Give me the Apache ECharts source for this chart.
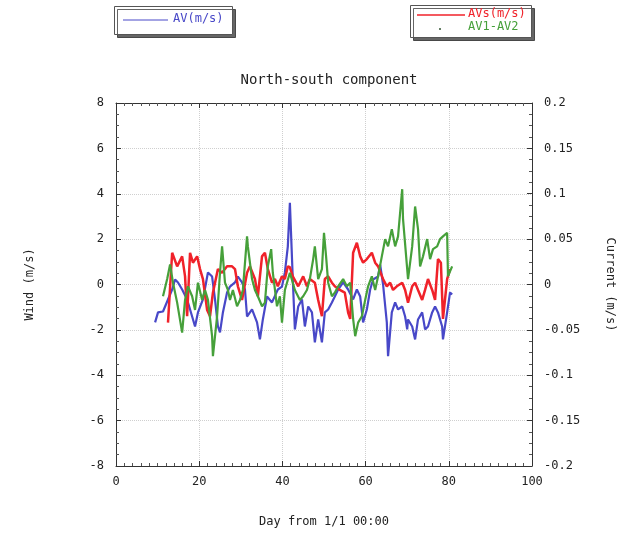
<!DOCTYPE html>
<html>
<head>
<meta charset="utf-8">
<script src="https://cdn.jsdelivr.net/npm/echarts@6/dist/echarts.min.js"></script>
<style>
    html,body{margin:0;padding:0;background:#fff;}
    #chart{width:626px;height:533px;}
</style>
</head>
<body>
<div id="chart"></div>
<script>
    // AV (wind, left axis, m/s) — [day, value]
    var avDays = [9.4,10.1,11.3,12.5,13.5,14.2,14.9,15.9,17.1,18.3,19.0,19.7,20.9,22.1,23.1,23.8,24.5,25.0,25.7,26.7,27.4,28.6,29.3,30.3,31.0,31.5,32.7,33.9,34.6,35.3,36.3,37.5,38.9,39.9,40.6,41.3,41.8,42.5,43.0,43.8,44.7,45.4,46.2,47.1,47.8,48.6,49.5,50.2,51.0,51.9,52.6,53.4,54.6,55.8,57.0,57.9,58.7,59.4,60.3,61.1,61.8,63.0,63.5,64.2,65.1,65.4,66.3,67.1,67.8,68.8,69.5,70.0,70.2,71.2,71.9,72.6,73.6,74.3,75.0,76.0,76.7,77.4,78.4,78.6,79.6,80.3,80.8]
    var avVals = [-1.67,-1.23,-1.19,-0.66,-0.22,0.22,0.09,-0.22,-0.66,-1.41,-1.85,-1.23,-0.66,0.53,0.35,-0.66,-1.85,-2.11,-1.23,-0.35,-0.09,0.09,0.35,0.09,-0.22,-1.41,-1.1,-1.67,-2.42,-1.54,-0.53,-0.79,-0.22,-0.09,0.53,1.67,3.6,0.22,-1.98,-0.97,-0.66,-1.85,-0.97,-1.23,-2.55,-1.54,-2.55,-1.23,-1.1,-0.79,-0.53,-0.22,0.09,-0.22,-0.66,-0.22,-0.53,-1.67,-1.1,-0.22,0.22,0.35,0.88,0,-1.67,-3.16,-1.23,-0.79,-1.1,-0.97,-1.41,-1.98,-1.54,-1.85,-2.42,-1.54,-1.23,-1.98,-1.85,-1.23,-0.97,-1.23,-1.85,-2.42,-1.23,-0.35,-0.44]

    // AVs (current, right axis, m/s)
    var avsDays = [12.5,13.5,14.7,15.9,16.6,17.1,17.8,18.5,19.5,20.2,20.9,21.9,22.6,23.3,24.5,25.5,26.7,27.9,28.6,29.3,30.3,31.5,32.2,33.4,34.1,35.1,35.8,36.5,37.5,38.2,38.9,39.9,40.6,41.3,41.8,42.5,43.8,45.0,45.9,46.6,47.8,48.6,49.5,50.2,51.0,51.9,52.6,53.8,55.0,55.8,56.3,57.0,57.9,58.7,59.4,60.3,61.5,62.3,63.0,64.2,65.1,65.9,66.6,67.5,68.8,69.5,70.2,71.2,71.9,72.6,73.6,74.3,75.0,76.0,76.7,77.4,78.1,78.6,79.6,80.3]
    var avsVals = [-0.042,0.035,0.020,0.031,0.009,-0.035,0.035,0.024,0.031,0.017,0.006,-0.028,-0.035,-0.009,0.017,0.013,0.020,0.020,0.017,-0.002,-0.017,0.013,0.020,0.006,-0.013,0.031,0.035,0.017,0.002,0.006,-0.002,0.009,0.006,0.020,0.019,0.009,-0.002,0.009,-0.002,0.006,0.002,-0.017,-0.035,0.006,0.009,0.002,-0.002,-0.006,-0.009,-0.031,-0.038,0.035,0.046,0.031,0.024,0.028,0.035,0.024,0.020,0.006,-0.002,0.002,-0.006,-0.002,0.002,-0.006,-0.020,-0.002,0.002,-0.006,-0.017,-0.006,0.006,-0.006,-0.017,0.028,0.024,-0.038,0.006,0.017]

    // AV1-AV2 (current, right axis, m/s)
    var diffDays = [11.3,12.3,13.0,13.7,14.7,15.9,16.6,17.3,18.3,19.0,19.7,20.7,21.4,22.1,23.1,23.3,24.3,25.0,25.5,26.2,26.9,27.4,28.1,29.1,29.8,30.5,31.5,31.7,32.7,33.4,34.1,35.1,35.8,36.5,37.3,37.7,38.7,39.4,39.9,40.6,41.8,43.0,44.2,45.0,45.9,46.6,47.4,47.8,48.6,49.5,50.0,50.5,51.0,51.9,52.6,53.4,54.6,55.5,56.3,57.0,57.5,58.2,59.1,59.9,60.6,61.5,62.3,63.0,63.9,64.7,65.4,66.3,67.1,67.8,68.8,69.0,70.0,70.2,71.2,71.9,72.6,73.1,73.8,74.8,75.5,76.2,77.2,77.9,78.6,79.6,79.8,80.8]
    var diffVals = [-0.013,0.006,0.022,0.002,-0.020,-0.053,-0.017,-0.002,-0.013,-0.028,0.002,-0.017,-0.006,-0.017,-0.057,-0.079,-0.035,0.013,0.042,0.002,-0.006,-0.017,-0.006,-0.024,-0.017,-0.006,0.053,0.042,0.006,-0.006,-0.013,-0.024,-0.020,0.020,0.039,0.013,-0.024,-0.013,-0.042,-0.006,0.013,-0.006,-0.017,-0.013,-0.006,0.006,0.028,0.042,0.006,0.017,0.057,0.031,0.002,-0.013,-0.009,-0.002,0.006,-0.002,0.002,-0.038,-0.057,-0.042,-0.035,-0.017,-0.002,0.009,-0.006,0.009,0.031,0.050,0.042,0.061,0.042,0.053,0.105,0.072,0.017,0.006,0.042,0.086,0.061,0.020,0.031,0.050,0.028,0.039,0.042,0.050,0.053,0.057,0.009,0.020]

    var xTicks = [0,20,40,60,80,100]
    var windTicks = [-8,-6,-4,-2,0,2,4,6,8]
    var currentTicks = [-0.2,-0.15,-0.1,-0.05,0,0.05,0.1,0.15,0.2]

    var font = 'DejaVu Sans Mono'
    var blue = '#4848c8'
    var red = '#f0222a'
    var green = '#46a03a'

    function pairs(xs, ys){
        return xs.map(function(x, i){ return [x, ys[i]] })
    }

    var myChart = echarts.init(document.getElementById('chart'))

    var frameTick = {show:true, inside:true, length:5, lineStyle:{color:'#333'}}
    var minor = function(n){ return {show:true, splitNumber:n, length:3, lineStyle:{color:'#555'}} }
    var dotted = {show:true, lineStyle:{color:'#cfcfcf', type:'dotted', width:1}}

    var option = {
        animation:false,
        textStyle:{fontFamily:font},
        title:{
            text:'North-south component',
            left:324,
            top:68,
            textAlign:'center',
            textStyle:{fontFamily:font, fontSize:14, fontWeight:'normal', color:'#222'}
        },
        grid:{left:116, right:94, top:103, bottom:66},
        xAxis:[{
            type:'value',
            min:xTicks[0],
            max:xTicks[xTicks.length-1],
            interval:20,
            name:'Day from 1/1 00:00',
            nameLocation:'middle',
            nameGap:50,
            nameTextStyle:{fontFamily:font, fontSize:12, color:'#222'},
            axisLine:{show:true, onZero:false, lineStyle:{color:'#333'}},
            axisTick:frameTick,
            minorTick:minor(10),
            axisLabel:{color:'#222', fontSize:12, margin:10},
            splitLine:dotted
        },{
            type:'value',
            position:'top',
            min:xTicks[0],
            max:xTicks[xTicks.length-1],
            interval:20,
            axisLine:{show:true, onZero:false, lineStyle:{color:'#333'}},
            axisTick:frameTick,
            minorTick:minor(10),
            axisLabel:{show:false},
            splitLine:{show:false}
        }],
        yAxis:[{
            type:'value',
            min:windTicks[0],
            max:windTicks[windTicks.length-1],
            interval:2,
            name:'Wind (m/s)',
            nameLocation:'middle',
            nameRotate:90,
            nameGap:80,
            nameTextStyle:{fontFamily:font, fontSize:12, color:'#222'},
            axisLine:{show:true, onZero:false, lineStyle:{color:'#333'}},
            axisTick:frameTick,
            minorTick:minor(4),
            axisLabel:{color:'#222', fontSize:12, margin:12},
            splitLine:dotted
        },{
            type:'value',
            min:currentTicks[0],
            max:currentTicks[currentTicks.length-1],
            interval:0.05,
            name:'Current (m/s)',
            nameLocation:'middle',
            nameRotate:-90,
            nameGap:72,
            nameTextStyle:{fontFamily:font, fontSize:12, color:'#222'},
            axisLine:{show:true, onZero:false, lineStyle:{color:'#333'}},
            axisTick:frameTick,
            minorTick:minor(4),
            axisLabel:{color:'#222', fontSize:12, margin:12,
                formatter:function(v){ return String(+v.toFixed(2)) }},
            splitLine:{show:false}
        }],
        graphic:[
            // legend box 1
            {type:'rect', left:114, top:6, shape:{width:118, height:28},
                style:{fill:'#fff', stroke:'#555', lineWidth:1, shadowColor:'rgba(0,0,0,0.6)', shadowOffsetX:3, shadowOffsetY:3}},
            {type:'line', shape:{x1:123, y1:20, x2:168, y2:20}, style:{stroke:blue, lineWidth:1}},
            {type:'text', left:173, top:13, style:{text:'AV(m/s)', fill:blue, font:'12px ' + font}},
            // legend box 2
            {type:'rect', left:410, top:5, shape:{width:121, height:32},
                style:{fill:'#fff', stroke:'#555', lineWidth:1, shadowColor:'rgba(0,0,0,0.6)', shadowOffsetX:3, shadowOffsetY:3}},
            {type:'line', shape:{x1:417, y1:15, x2:465, y2:15}, style:{stroke:red, lineWidth:1.5}},
            {type:'text', left:468, top:8, style:{text:'AVs(m/s)', fill:red, font:'12px ' + font}},
            {type:'circle', shape:{cx:440, cy:29, r:1}, style:{fill:'#335533'}},
            {type:'text', left:468, top:21, style:{text:'AV1-AV2', fill:green, font:'12px ' + font}}
        ],
        series:[{
            name:'AV(m/s)',
            type:'line',
            xAxisIndex:0,
            yAxisIndex:0,
            data:pairs(avDays, avVals),
            showSymbol:false,
            lineStyle:{color:blue, width:2.2},
            z:2
        },{
            name:'AVs(m/s)',
            type:'line',
            xAxisIndex:0,
            yAxisIndex:1,
            data:pairs(avsDays, avsVals),
            showSymbol:false,
            lineStyle:{color:red, width:2.5},
            z:3
        },{
            name:'AV1-AV2',
            type:'line',
            xAxisIndex:0,
            yAxisIndex:1,
            data:pairs(diffDays, diffVals),
            showSymbol:false,
            lineStyle:{color:green, width:2.2},
            z:4
        }]
    }
    myChart.setOption(option)
</script>
</body>
</html>
